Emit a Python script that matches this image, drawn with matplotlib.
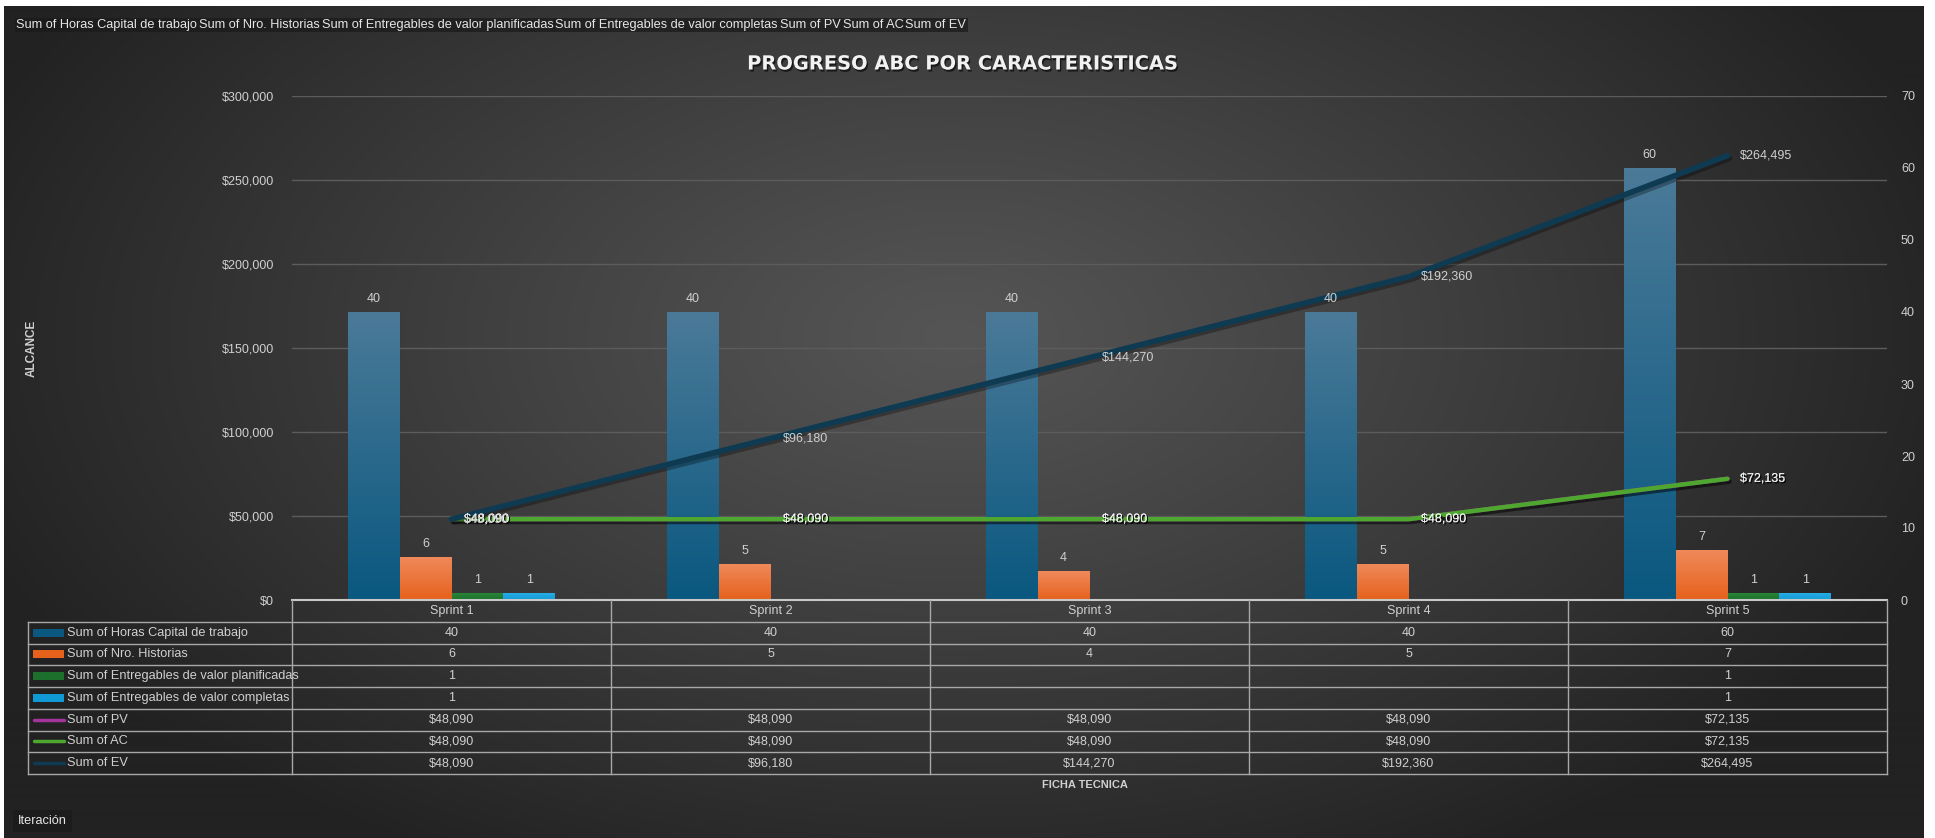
import numpy as np
import matplotlib
matplotlib.use("Agg")
import matplotlib.pyplot as plt
import matplotlib.patheffects as pe
from matplotlib.patches import Rectangle
from matplotlib.colors import LinearSegmentedColormap, to_rgb
from matplotlib import font_manager

# datos del grafico
sprints = ["Sprint 1", "Sprint 2", "Sprint 3", "Sprint 4", "Sprint 5"]
horas = [40, 40, 40, 40, 60]
historias = [6, 5, 4, 5, 7]
planificadas = [1, None, None, None, 1]
completas = [1, None, None, None, 1]
pv = [48090, 48090, 48090, 48090, 72135]
ac = [48090, 48090, 48090, 48090, 72135]
ev = [48090, 96180, 144270, 192360, 264495]

bar_names = ["Sum of Horas Capital de trabajo", "Sum of Nro. Historias",
             "Sum of Entregables de valor planificadas", "Sum of Entregables de valor completas"]
line_names = ["Sum of PV", "Sum of AC", "Sum of EV"]

bar_colors = [("#4b7a98", "#0a5880"), ("#f08a5c", "#e6611c"), ("#2a8a3a", "#1c702b"), ("#2bb0e6", "#1199d6")]
line_colors = ["#a2349a", "#4ea72e", "#0e3a52"]

names = {f.name for f in font_manager.fontManager.ttflist}
REG = "Liberation Sans" if "Liberation Sans" in names else "DejaVu Sans"
NARROW = "Liberation Sans Narrow" if "Liberation Sans Narrow" in names else REG
NARROW_SIZE = 10 if NARROW != REG else 9.2
TXT = "#d0d0d0"

W, H = 1935, 838
fig = plt.figure(figsize=(W / 100, H / 100), dpi=100, facecolor="white")

# fondo con degradado radial
bg = fig.add_axes([4 / W, 0, 1920 / W, 832 / H], zorder=-5)
yy, xx = np.mgrid[0:832, 0:1920]
r = np.sqrt(((xx - 950) / 1050.0) ** 2 + ((yy - 330) / 600.0) ** 2)
t = np.clip(r, 0, 1)[..., None] ** 1.1
img = np.array(to_rgb("#555555")) * (1 - t) + np.array(to_rgb("#222222")) * t
bg.imshow(img, aspect="auto")
bg.axis("off")

# area de trazado
plot_l, plot_r, plot_t, plot_b = 292, 1887, 96, 600
ax = fig.add_axes([plot_l / W, 1 - plot_b / H, (plot_r - plot_l) / W, (plot_b - plot_t) / H])
ax2 = ax.twinx()
for a in (ax, ax2):
    a.set_facecolor("none")
    for s in a.spines.values():
        s.set_visible(False)
    a.set_xticks([])

ax.set_ylim(0, 70)
ax2.set_ylim(0, 300000)
ax.yaxis.tick_right()
ax2.yaxis.tick_left()
ax.set_yticks(range(0, 71, 10))
ax2.set_yticks(range(0, 300001, 50000))
ax2.yaxis.set_major_formatter(matplotlib.ticker.FuncFormatter(lambda v, p: f"${v:,.0f}"))
ax.tick_params(axis="y", length=0, pad=10, labelcolor=TXT, labelsize=9)
ax2.tick_params(axis="y", length=0, pad=13, labelcolor=TXT, labelsize=9)
for lab in ax.get_yticklabels() + ax2.get_yticklabels():
    lab.set_fontfamily(REG)

# lineas de cuadricula (escala principal) detras de las barras
for v in ax2.get_yticks():
    if v > 0:
        ax.axhline(v / 300000 * 70, color="#5c5c5c", lw=1, zorder=0)

# barras en el eje secundario
x = np.arange(len(sprints))
w = 0.163
bar_data = [horas, historias, planificadas, completas]
for k, vals in enumerate(bar_data):
    off = (k - 1.5) * w
    top_c, bot_c = bar_colors[k]
    cmap = LinearSegmentedColormap.from_list("g%d" % k, [top_c, bot_c])
    for i, v in enumerate(vals):
        if v is None:
            continue
        rect = ax.bar(x[i] + off, v, w, color=bot_c, zorder=2, linewidth=0)[0]
        if k == 0:
            rect.set_path_effects([pe.SimplePatchShadow(offset=(0, 0), shadow_rgbFace="black", alpha=0.35), pe.Normal()])
        im = ax.imshow(np.linspace(0, 1, 100).reshape(-1, 1), cmap=cmap, aspect="auto",
                       extent=(x[i] + off - w / 2, x[i] + off + w / 2, 0, v), zorder=2.1)
        im.set_clip_path(rect)
        # etiqueta encima de todo (en ax2, coordenadas de ax)
        ax2.annotate(str(v), (x[i] + off, v), xycoords=ax.transData, xytext=(0, 5),
                     textcoords="offset points", ha="center", va="bottom", color=TXT,
                     fontsize=9, family=REG, zorder=6)
ax.set_xlim(-0.5, len(sprints) - 0.5)
ax.set_ylim(0, 70)

# lineas en el eje principal
shadow = [pe.SimpleLineShadow(offset=(1.5, -2), shadow_color="black", alpha=0.3), pe.Normal()]
line_data = [pv, ac, ev]
for k, vals in enumerate(line_data):
    ax2.plot(x, vals, color=line_colors[k], lw=3.2 if k < 2 else 4, solid_capstyle="round",
             path_effects=shadow, zorder=3)
for k, vals in enumerate(line_data):
    for i, v in enumerate(vals):
        if k < 2:
            ax2.annotate(f"${v:,}", (x[i], v), xytext=(9, 0), textcoords="offset points",
                         ha="left", va="center", color="#f2f2f2", fontsize=9, family=REG,
                         path_effects=[pe.SimplePatchShadow(offset=(1, -1), shadow_rgbFace="black", alpha=0.6), pe.Normal()], zorder=5)
        else:
            ax2.annotate(f"${v:,}", (x[i], v), xytext=(9, 0), textcoords="offset points",
                         ha="left", va="center", color=TXT, fontsize=9, family=REG, zorder=5)
ax2.set_xlim(-0.5, len(sprints) - 0.5)

# capa superior en pixeles
ov = fig.add_axes([0, 0, 1, 1], zorder=5)
ov.set_xlim(0, W)
ov.set_ylim(H, 0)
ov.axis("off")

ov.text(963, 64, "PROGRESO ABC POR CARACTERISTICAS", ha="center", va="center", fontsize=14,
        weight="bold", color="#f2f2f2", family="DejaVu Sans",
        path_effects=[pe.SimplePatchShadow(offset=(1, -1.5), shadow_rgbFace="black", alpha=0.6), pe.Normal()])

ov.text(32, 348, "ALCANCE", rotation=90, ha="center", va="center", fontsize=8.5, weight="bold",
        color=TXT, family=NARROW)

# tabla de datos
key_l = 28
row_h = 21.75
cat_w = (plot_r - plot_l) / len(sprints)
n_rows = len(bar_names) + len(line_names)
tab_b = plot_b + (n_rows + 1) * row_h
grid_c = "#a8a8a8"
ov.plot([plot_l, plot_r], [plot_b, plot_b], color="#c8c8c8", lw=1.5)
for rr in range(1, n_rows + 2):
    yv = plot_b + rr * row_h
    ov.plot([key_l, plot_r], [yv, yv], color=grid_c, lw=1)
for j in range(len(sprints) + 1):
    xv = plot_l + j * cat_w
    ov.plot([xv, xv], [plot_b, tab_b], color=grid_c, lw=1)
ov.plot([key_l, key_l], [plot_b + row_h, tab_b], color=grid_c, lw=1)

for j, s in enumerate(sprints):
    ov.text(plot_l + (j + 0.5) * cat_w, plot_b + row_h / 2, s, ha="center", va="center",
            fontsize=9, color=TXT, family=REG)

rows = list(zip(bar_names, bar_data)) + list(zip(line_names, line_data))
for rr, (name, vals) in enumerate(rows):
    yc = plot_b + (rr + 1.5) * row_h
    if rr < len(bar_names):
        ov.add_patch(Rectangle((key_l + 5, yc - 4), 31, 8, color=bar_colors[rr][1], lw=0))
    else:
        ov.plot([key_l + 6, key_l + 36], [yc, yc], color=line_colors[rr - len(bar_names)],
                lw=2.5, solid_capstyle="round")
    ov.text(key_l + 39, yc, name, ha="left", va="center", fontsize=NARROW_SIZE, color=TXT, family=NARROW)
    for j, v in enumerate(vals):
        if v is None:
            continue
        s = f"${v:,}" if rr >= len(bar_names) else str(v)
        ov.text(plot_l + (j + 0.5) * cat_w, yc, s, ha="center", va="center", fontsize=9,
                color=TXT, family=REG)

ov.text(plot_l + (plot_r - plot_l) / 2 - 5, 785, "FICHA TECNICA", ha="center", va="center",
        fontsize=8, weight="bold", color=TXT, family=NARROW)

# botones de campo (tabla dinamica)
renderer = fig.canvas.get_renderer()
xpos = 16
btn_box = dict(boxstyle="square,pad=0.1", facecolor="#1b1b1b", edgecolor="none", alpha=0.75)
for name in bar_names + line_names:
    tx = ov.text(xpos, 25, name, ha="left", va="center", fontsize=NARROW_SIZE, color="#e6e6e6",
                 family=NARROW, bbox=btn_box)
    ext = tx.get_window_extent(renderer)
    xpos += ext.width + 2

ov.text(18, 821, "Iteración", ha="left", va="center", fontsize=NARROW_SIZE, color="#e6e6e6", family=NARROW,
        bbox=dict(boxstyle="square,pad=0.4", facecolor="#1b1b1b", edgecolor="none", alpha=0.75))

fig.savefig("out.png", dpi=100, facecolor="white")
